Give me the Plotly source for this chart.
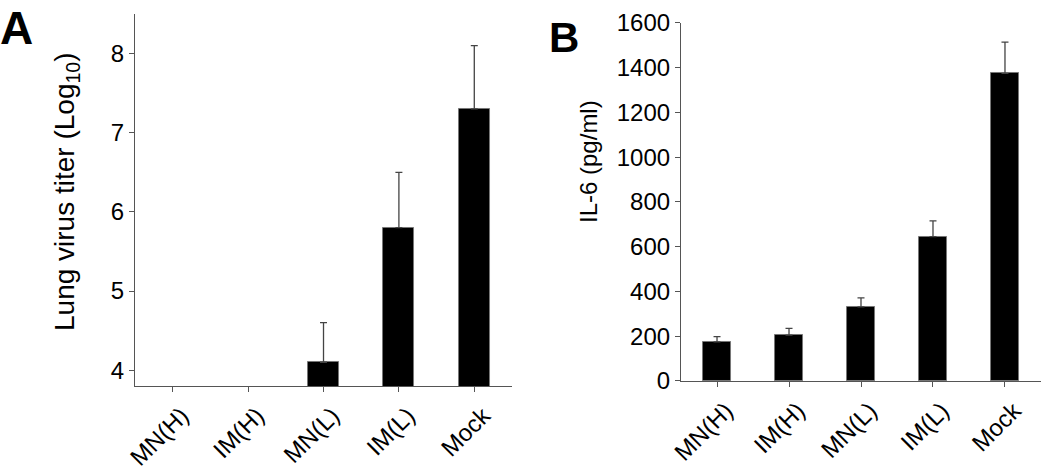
import plotly.graph_objects as go

groups = ["MN(H)", "IM(H)", "MN(L)", "IM(L)", "Mock"]

# panel A: lung virus titer (log10), undetected groups left empty
titer = [None, None, 4.1, 5.8, 7.3]
titer_err = [0, 0, 0.5, 0.7, 0.8]

# panel B: IL-6 (pg/ml)
il6 = [175, 205, 331, 645, 1375]
il6_err = [23, 30, 40, 71, 139]

font = "Liberation Sans, Arial, sans-serif"
axis_col = "#555555"

fig = go.Figure()

fig.add_trace(go.Bar(
    x=groups, y=titer, width=0.41,
    marker=dict(color="black", line=dict(color="#777777", width=1)),
    error_y=dict(type="data", array=titer_err, arrayminus=[0] * 5, symmetric=False,
                 color="#444444", thickness=1.3, width=3.5),
    xaxis="x", yaxis="y", showlegend=False,
))
fig.add_trace(go.Bar(
    x=groups, y=il6, width=0.40,
    marker=dict(color="black", line=dict(color="#777777", width=1)),
    error_y=dict(type="data", array=il6_err, arrayminus=[0] * 5, symmetric=False,
                 color="#444444", thickness=1.3, width=3.5),
    xaxis="x2", yaxis="y2", showlegend=False,
))

xcommon = dict(type="category", showline=True, linecolor=axis_col, linewidth=1.3,
               ticks="outside", ticklen=5, tickcolor=axis_col, tickangle=-45,
               showgrid=False, automargin=False, ticklabelshift=9,
               tickfont=dict(size=24, color="black", family=font))
ycommon = dict(showline=True, linecolor=axis_col, linewidth=1.3, ticks="outside",
               ticklen=5, tickcolor=axis_col, showgrid=False, zeroline=False,
               automargin=False, tickfont=dict(size=24, color="black", family=font))

fig.update_layout(
    width=1050, height=471,
    margin=dict(l=0, r=0, t=0, b=0),
    paper_bgcolor="white", plot_bgcolor="white",
    font=dict(family=font, color="black"),
    bargap=0,
    xaxis=dict(domain=[0.1286, 0.4876], anchor="y", **xcommon),
    yaxis=dict(domain=[0.1805, 0.9703], anchor="x", range=[3.8, 8.5],
               tickvals=[4, 5, 6, 7, 8], **ycommon),
    xaxis2=dict(domain=[0.6486, 0.9914], anchor="y2", **xcommon),
    yaxis2=dict(domain=[0.1911, 0.9512], anchor="x2", range=[0, 1600],
                tickvals=list(range(0, 1601, 200)), **ycommon),
    annotations=[
        # axis titles
        dict(text="Lung virus titer (Log<sub>10</sub>)", textangle=-90,
             x=66 / 1050, y=(471 - 192) / 471, xref="paper", yref="paper",
             xanchor="center", yanchor="middle", showarrow=False,
             font=dict(size=28, family=font)),
        dict(text="IL-6 (pg/ml)", textangle=-90,
             x=588 / 1050, y=(471 - 162) / 471, xref="paper", yref="paper",
             xanchor="center", yanchor="middle", showarrow=False,
             font=dict(size=24, family=font)),
        # panel letters
        dict(text="<b>A</b>", x=16 / 1050, y=(471 - 28) / 471, xref="paper", yref="paper",
             xanchor="center", yanchor="middle", showarrow=False,
             font=dict(size=46, family=font)),
        dict(text="<b>B</b>", x=564 / 1050, y=(471 - 38) / 471, xref="paper", yref="paper",
             xanchor="center", yanchor="middle", showarrow=False,
             font=dict(size=42, family=font)),
    ],
)

# drop the page's default body margin so the figure sits at the window corner
fig.write_html("out.html", config={"displayModeBar": False},
               post_script="document.body.style.margin='0';")
